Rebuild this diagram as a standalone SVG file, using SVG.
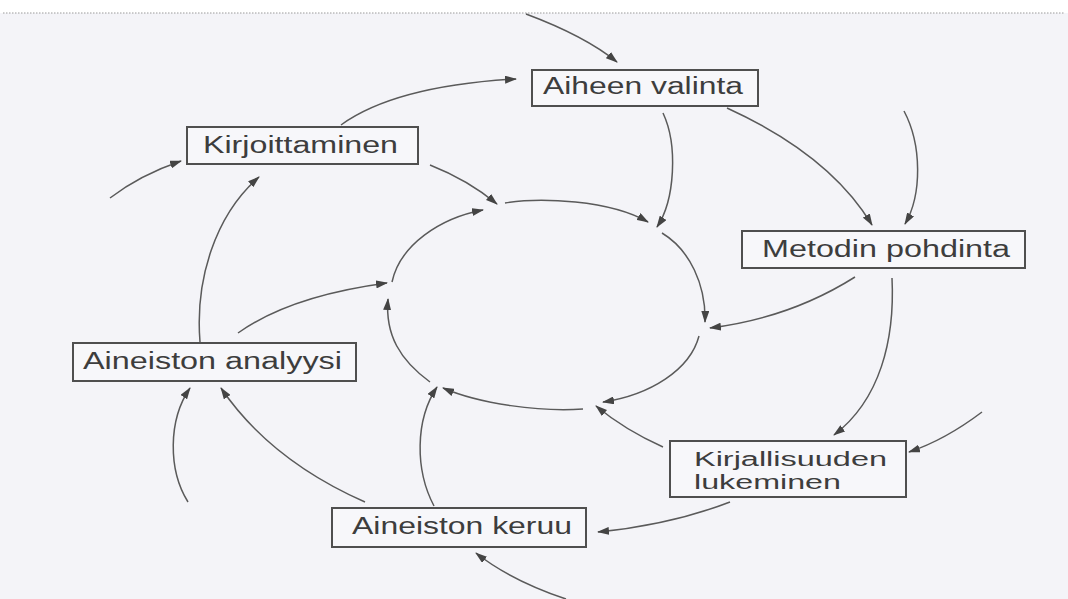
<svg xmlns="http://www.w3.org/2000/svg" width="1068" height="599" viewBox="0 0 1068 599">
<defs>
<style>
.bg{fill:#f4f4f8}
.box{fill:#f7f7fa;stroke:#4f4f4f;stroke-width:2}
.lbl{font-family:"Liberation Sans",Arial,sans-serif;font-size:23px;fill:#3d3d3d}
.sm{font-size:20px}
.c{fill:none;stroke:#5a5a5a;stroke-width:1.5;marker-end:url(#ah)}
</style>
<marker id="ah" viewBox="0 0 12 8" refX="11" refY="4" markerWidth="12" markerHeight="8" markerUnits="userSpaceOnUse" orient="auto">
<path d="M0,0 L12,4 L0,8 Z" fill="#444"/>
</marker>
</defs>
<rect x="0" y="0" width="1068" height="599" fill="#ffffff"/>
<rect class="bg" x="0" y="13" width="1068" height="586"/>
<line x1="3" y1="13" x2="1065" y2="13" stroke="#9a9a9a" stroke-width="1" stroke-dasharray="1.5 1.5"/>

<g id="connectors">
<path class="c" d="M526,14 Q585,36 617,62"/>
<path class="c" d="M341,125 Q395,86 516,79"/>
<path class="c" d="M110,198 Q140,175 181,161"/>
<path class="c" d="M200,342 C195,280 215,215 259,177"/>
<path class="c" d="M430,165 Q468,180 497,204"/>
<path class="c" d="M238,333 Q290,296 387,283"/>
<path class="c" d="M392,282 C400,245 440,218 483,210"/>
<path class="c" d="M505,203 C540,197 610,200 648,222"/>
<path class="c" d="M663,113 C678,145 675,200 657,227"/>
<path class="c" d="M727,108 Q830,155 872,225"/>
<path class="c" d="M904,111 C922,145 922,195 905,224"/>
<path class="c" d="M662,233 C690,250 706,285 705,322"/>
<path class="c" d="M855,277 Q790,318 710,328"/>
<path class="c" d="M892,278 C895,340 880,400 834,435"/>
<path class="c" d="M982,412 Q945,440 909,452"/>
<path class="c" d="M699,336 C690,370 650,395 603,402"/>
<path class="c" d="M663,447 Q625,430 596,406"/>
<path class="c" d="M583,409 C540,412 480,404 443,388"/>
<path class="c" d="M434,506 C415,470 415,420 437,387"/>
<path class="c" d="M430,382 C400,360 385,335 388,299"/>
<path class="c" d="M365,502 Q270,460 221,388"/>
<path class="c" d="M188,502 C168,470 168,420 190,388"/>
<path class="c" d="M730,502 Q670,525 598,532"/>
<path class="c" d="M566,599 Q510,580 476,553"/>
</g>

<g id="aiheen-valinta">
<rect class="box" x="532" y="70" width="226" height="36"/>
<text class="lbl" x="543" y="94" textLength="200" lengthAdjust="spacingAndGlyphs">Aiheen valinta</text>
</g>
<g id="kirjoittaminen">
<rect class="box" x="187" y="127" width="231" height="37"/>
<text class="lbl" x="203" y="153" textLength="195" lengthAdjust="spacingAndGlyphs">Kirjoittaminen</text>
</g>
<g id="metodin-pohdinta">
<rect class="box" x="742" y="231" width="283" height="37"/>
<text class="lbl" x="762" y="257" textLength="248" lengthAdjust="spacingAndGlyphs">Metodin pohdinta</text>
</g>
<g id="aineiston-analyysi">
<rect class="box" x="73" y="343" width="283" height="38"/>
<text class="lbl" x="83" y="369" textLength="259" lengthAdjust="spacingAndGlyphs">Aineiston analyysi</text>
</g>
<g id="aineiston-keruu">
<rect class="box" x="332" y="508" width="254" height="39"/>
<text class="lbl" x="352" y="534" textLength="220" lengthAdjust="spacingAndGlyphs">Aineiston keruu</text>
</g>
<g id="kirjallisuuden-lukeminen">
<rect class="box" x="670" y="441" width="236" height="56"/>
<text class="lbl sm" x="694" y="466" textLength="193" lengthAdjust="spacingAndGlyphs">Kirjallisuuden</text>
<text class="lbl sm" x="694" y="489" textLength="147" lengthAdjust="spacingAndGlyphs">lukeminen</text>
</g>
</svg>
